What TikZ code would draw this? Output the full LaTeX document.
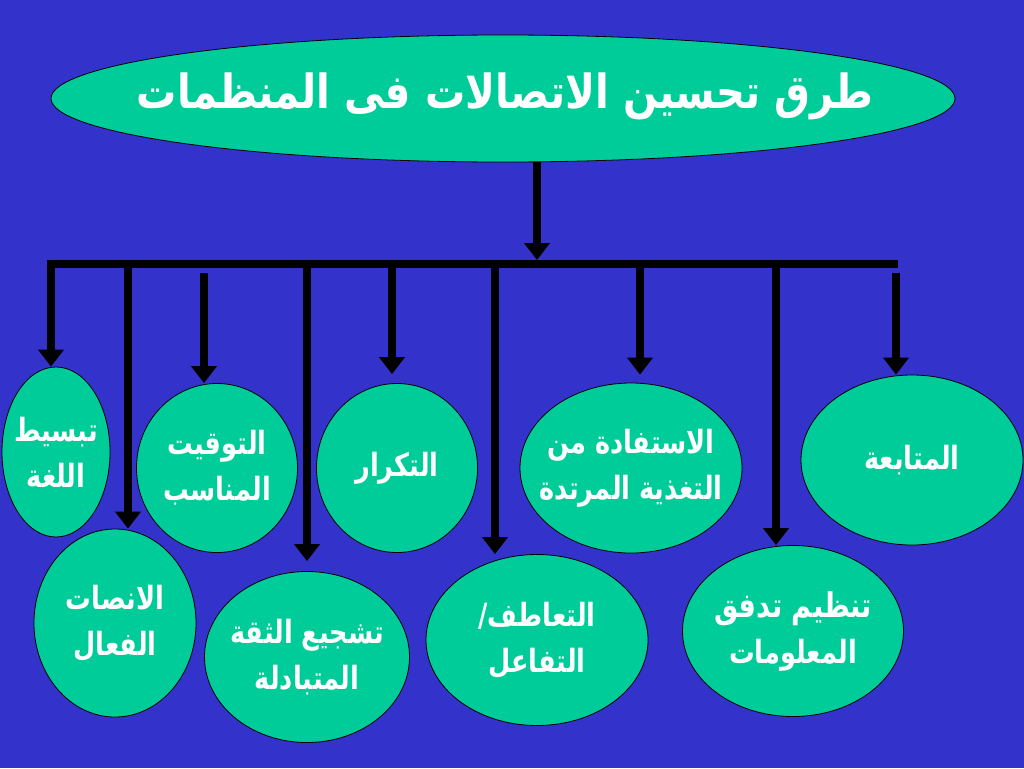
\documentclass[tikz,border=0pt]{standalone}
\usepackage{fontspec}
\usetikzlibrary{shapes.geometric,arrows.meta}
\TeXXeTstate=1
\newfontfamily\arabicfont[Script=Arabic]{DejaVu Sans}
\newcommand\artxt[2][0.8]{\scalebox{#1}[1]{\beginR #2\endR}}
\definecolor{bgblue}{HTML}{3333CC}
\definecolor{elgreen}{HTML}{00CC99}
\begin{document}
\begin{tikzpicture}[x=1pt,y=-1pt,
  el/.style={ellipse, draw=black, line width=0.8pt, fill=elgreen, inner sep=0pt},
  txt/.style={text=white, font=\arabicfont\bfseries\fontsize{32}{46}\selectfont, align=center, inner sep=0pt},
  ttl/.style={text=white, font=\arabicfont\bfseries\fontsize{47}{50}\selectfont, inner sep=0pt},
  conn/.style={line width=8pt, draw=black},
  arr/.style={conn, -{Triangle[width=25pt,length=17pt]}},
]
\fill[bgblue] (0,0) rectangle (1024,768);
\useasboundingbox (0,0) rectangle (1024,768);

% title
\node[el, minimum width=904pt, minimum height=127pt] (top) at (503,98.5) {};
\node[ttl] (toptxt) at (505,96) {\artxt[0.855]{طرق تحسين الاتصالات فى المنظمات}};

% ellipses
\node[el, minimum width=108pt, minimum height=170pt] (e1) at (56,452) {};
\node[el, minimum width=161pt, minimum height=169pt] (e2) at (217,468) {};
\node[el, minimum width=161pt, minimum height=169pt] (e3) at (397,468) {};
\node[el, minimum width=222pt, minimum height=170pt] (e4) at (631,468) {};
\node[el, minimum width=222pt, minimum height=170pt] (e5) at (912,460) {};
\node[el, minimum width=162pt, minimum height=188pt] (e6) at (115,623) {};
\node[el, minimum width=205pt, minimum height=171pt] (e7) at (307,657) {};
\node[el, minimum width=222pt, minimum height=171pt] (e8) at (537,640) {};
\node[el, minimum width=221pt, minimum height=171pt] (e9) at (793,631) {};

\node[txt] (t1) at (e1.center) {\artxt{تبسيط}\\\artxt{اللغة}};
\node[txt] (t2) at (e2.center) {\artxt{التوقيت}\\\artxt{المناسب}};
\node[txt] (t3) at (e3.center) {\artxt{التكرار}};
\node[txt] (t4) at (e4.center) {\artxt{الاستفادة من}\\\artxt{التغذية المرتدة}};
\node[txt] (t5) at (e5.center) {\artxt{المتابعة}};
\node[txt] (t6) at (e6.center) {\artxt{الانصات}\\\artxt{الفعال}};
\node[txt] (t7) at (e7.center) {\artxt{تشجيع الثقة}\\\artxt{المتبادلة}};
\node[txt] (t8) at (e8.center) {\artxt{التعاطف/}\\\artxt{التفاعل}};
\node[txt] (t9) at (e9.center) {{\fontsize{34}{46}\selectfont\artxt{تنظيم تدفق}}\\\artxt{المعلومات}};

% bar
\coordinate (bL) at (47,264);
\coordinate (bR) at (898,264);
\coordinate (m) at (537,260);
\draw[conn] (bL) -- (bR);
\draw[arr] (top.south -| m) -- (m);

% branch starts
\coordinate (s1) at (51,260);
\coordinate (s2) at (128,264);
\coordinate (s3) at (204,273);
\coordinate (s4) at (307,264);
\coordinate (s5) at (392,264);
\coordinate (s6) at (495,264);
\coordinate (s7) at (640,264);
\coordinate (s8) at (776,264);
\coordinate (s9) at (896,273);

\draw[arr] (s1) -- (s1 |- e1.north);
\draw[arr] (s2) -- (s2 |- e6.north);
\draw[arr] (s3) -- (s3 |- e2.north);
\draw[arr, shorten >=10pt] (s4) -- (s4 |- e7.north);
\draw[arr, shorten >=9pt] (s5) -- (s5 |- e3.north);
\draw[arr] (s6) -- (s6 |- e8.north);
\draw[arr, shorten >=8pt] (s7) -- (s7 |- e4.north);
\draw[arr] (s8) -- (s8 |- e9.north);
\draw[arr] (s9) -- (s9 |- e5.north);
\end{tikzpicture}
\end{document}
